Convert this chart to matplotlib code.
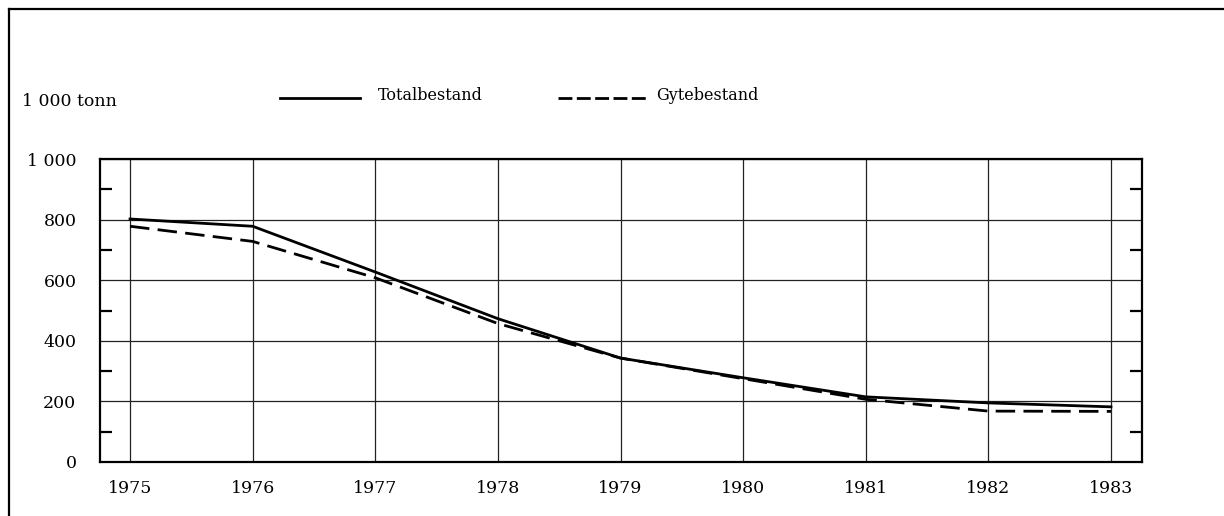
import matplotlib
matplotlib.use("Agg")
import matplotlib.pyplot as plt
from matplotlib.lines import Line2D
from matplotlib.ticker import FixedLocator

years = [1975, 1976, 1977, 1978, 1979, 1980, 1981, 1982, 1983]
totalbestand = [802, 778, 627, 473, 343, 278, 215, 195, 182]
gytebestand = [778, 728, 608, 457, 343, 275, 207, 168, 167]
y_ticks = [0, 200, 400, 600, 800, 1000]
y_tick_labels = ["0", "200", "400", "600", "800", "1 000"]
y_minor = [100, 300, 500, 700, 900]

plt.rcParams['font.family'] = ['DejaVu Serif']

W, H = 1224, 516
fig = plt.figure(figsize=(W / 100, H / 100), dpi=100)
ax = fig.add_axes([100 / W, (H - 462) / H, (1142 - 100) / W, (462 - 159) / H])

ax.plot(years, totalbestand, color='black', lw=2.0, solid_joinstyle='round')
ax.plot(years, gytebestand, color='black', lw=2.0, dashes=(7, 3))

ax.set_xlim(1974.755, 1983.253)
ax.set_ylim(0, 1000)
ax.set_xticks(years)
ax.set_xticklabels([str(y) for y in years], fontsize=12.5)
ax.set_yticks(y_ticks)
ax.set_yticklabels(y_tick_labels, fontsize=12.5)
ax.yaxis.set_minor_locator(FixedLocator(y_minor))
ax.tick_params(axis='both', which='major', length=0)
ax.tick_params(axis='x', pad=13)
ax.tick_params(axis='y', pad=17)
ax.tick_params(axis='y', which='minor', direction='in', length=8.6, width=1.6,
               left=True, right=True, color='black')
ax.grid(True, which='major', color='#222222', lw=0.9)
ax.set_axisbelow(True)
for s in ax.spines.values():
    s.set_linewidth(1.6)
    s.set_color('black')

# Legend (drawn manually in figure pixel coordinates)
def px(x, y):
    return x / W, 1 - y / H

fig.add_artist(Line2D([px(280, 0)[0], px(360, 0)[0]], [px(0, 98)[1]] * 2,
                      color='black', lw=2.0))
fig.text(*px(378, 96), "Totalbestand", fontsize=11.5, va='center', ha='left')
fig.add_artist(Line2D([px(558, 0)[0], px(646, 0)[0]], [px(0, 98)[1]] * 2,
                      color='black', lw=2.0, dashes=(5, 1.6)))
fig.text(*px(656, 96), "Gytebestand", fontsize=11.5, va='center', ha='left')
fig.text(*px(22, 102), "1 000 tonn", fontsize=12.5, va='center', ha='left')

# outer frame (left and top edges visible)
fig.add_artist(Line2D([px(9, 0)[0], px(9, 0)[0]], [px(0, 9)[1], 0], color='black', lw=1.6))
fig.add_artist(Line2D([px(9, 0)[0], 1], [px(0, 9)[1]] * 2, color='black', lw=1.6))

fig.savefig("out.png", dpi=100)
